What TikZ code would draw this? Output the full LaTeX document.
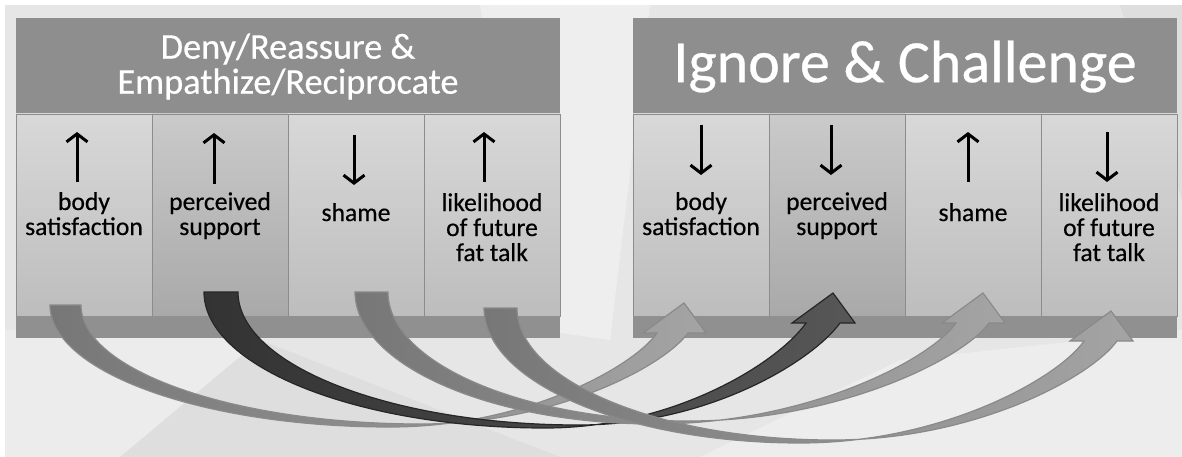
\documentclass[tikz,border=0pt]{standalone}
\usepackage{fontspec}
\setmainfont{Carlito}[FakeBold=0.5]
\usetikzlibrary{arrows.meta}

\definecolor{bggray}{HTML}{E6E6E6}
\definecolor{headgray}{HTML}{8E8E8E}
\definecolor{bargray}{HTML}{909090}
\definecolor{edgegray}{HTML}{8C8C8C}
\definecolor{coltop}{HTML}{D8D8D8}
\definecolor{colbot}{HTML}{BDBDBD}
\definecolor{coltopd}{HTML}{CACACA}
\definecolor{colbotd}{HTML}{A9A9A9}
\definecolor{rimgray}{HTML}{8A8A8A}
\definecolor{bandleft}{HTML}{777777}
\definecolor{bandright}{HTML}{A4A4A4}

\tikzset{
  panelhead/.style={fill=headgray, text=white, minimum width=544pt, minimum height=96pt, inner sep=0pt, align=center},
  colbox/.style={draw=edgegray, line width=0.8pt, top color=coltop, bottom color=colbot, minimum width=136pt, minimum height=202pt, inner sep=0pt},
  colboxdark/.style={colbox, top color=coltopd, bottom color=colbotd},
  footbar/.style={fill=bargray, minimum width=544pt, minimum height=22pt, inner sep=0pt},
  lbl/.style={align=center, font=\fontsize{25.6}{25}\selectfont, inner sep=0pt, anchor=base},
  trend/.style={line width=3pt, -{Straight Barb[length=8pt,width=21pt]}},
  band/.style={draw=rimgray, line width=1.2pt, left color=bandleft, right color=bandright},
  darkband/.style={draw=black!85, line width=1.2pt, left color=black!80, right color=black!66},
}

% curved ribbon with arrow head: start x, start y, width, bottom x, bottom y, neck x, neck y, style
\newcommand{\curvelink}[8]{%
  \path[#8] (#1,#2)
    .. controls (#1,{#2+0.55*(#5-#2)}) and ({#4-0.55*(#4-#1)},#5) .. (#4,#5)
    .. controls ({#4+0.5*(#6-#4)},#5) and ({#6-0.26*(#5-#7)},{#7+0.37*(#5-#7)}) .. (#6,#7)
    -- ({#6-14},#7) -- ({#6+27},{#7-30}) -- ({#6+49},#7) -- ({#6+#3},#7)
    .. controls ({#6+#3-0.26*(#5-#7)},{#7+0.37*(#5-#7-3)}) and ({#4+#3+0.5*(#6-#4)},{#5-3}) .. ({#4+#3},{#5-3})
    .. controls ({#4+#3-0.55*(#4-#1)},{#5-3}) and ({#1+#3},{#2+0.55*(#5-3-#2)}) .. ({#1+#3},#2)
    -- cycle;
}

\begin{document}
\begin{tikzpicture}[x=1pt,y=-1pt]
\useasboundingbox (0,0) rectangle (1182,457);
% backdrop
\fill[white] (0,0) rectangle (1182,457);
\fill[bggray] (5,5) rectangle (1182,457);
\fill[white,opacity=0.35] (480,5) -- (650,5) -- (610,340) -- (540,330) -- cycle;
\fill[white,opacity=0.25] (5,330) -- (260,340) -- (120,457) -- (5,457) -- cycle;
\fill[white,opacity=0.3] (700,457) -- (900,360) -- (1182,330) -- (1182,457) -- cycle;
\fill[black,opacity=0.03] (260,340) -- (560,457) -- (120,457) -- cycle;
\fill[black,opacity=0.03] (1182,5) -- (1182,200) -- (1120,5) -- cycle;

% left panel
\node[panelhead, font=\fontsize{36.3}{35}\selectfont] (lhead) at (288,66.5) {Deny/Reassure \&\\Empathize/Reciprocate};
\node[colbox] (l1) at (84,215) {};
\node[colboxdark] (l2) at (220,215) {};
\node[colbox] (l3) at (356,215) {};
\node[colbox] (l4) at (492,215) {};
\node[footbar] (lbar) at (288,327) {};

% right panel
\node[panelhead, font=\fontsize{60}{60}\selectfont] (rhead) at (905,66.5) {Ignore \& Challenge};
\node[colbox] (r1) at (701,215) {};
\node[colboxdark] (r2) at (837,215) {};
\node[colbox] (r3) at (973,215) {};
\node[colbox] (r4) at (1109,215) {};
\node[footbar] (rbar) at (905,327) {};

%Text (base = last line)
\node[lbl] (l1txt) at (84,235) {body\\satisfaction};
\node[lbl] (l2txt) at (220,235) {perceived\\support};
\node[lbl] (l3txt) at (356,221) {shame};
\node[lbl] (l4txt) at (492,261) {likelihood\\of future\\fat talk};
\node[lbl] (r1txt) at (701,235) {body\\satisfaction};
\node[lbl] (r2txt) at (837,235) {perceived\\support};
\node[lbl] (r3txt) at (973,221) {shame};
\node[lbl] (r4txt) at (1109,261) {likelihood\\of future\\fat talk};

% up / down marks
\draw[trend] (77,182) -- (77,132);
\draw[trend] (214,184) -- (214,133);
\draw[trend] (354,135) -- (354,185);
\draw[trend] (484,182) -- (484,132);
\draw[trend] (701,125) -- (701,175);
\draw[trend] (831,125) -- (831,175);
\draw[trend] (968,182) -- (968,132);
\draw[trend] (1107,132) -- (1107,182);

% ribbons from left columns to right columns
\curvelink{50}{305}{31}{390}{427}{657}{333}{band}
\curvelink{204}{292}{34}{545}{428}{806}{323}{darkband}
\curvelink{355}{292}{33}{655}{424}{956}{323}{band}
\curvelink{484}{308}{33}{800}{443}{1084}{341}{band}
\end{tikzpicture}
\end{document}
